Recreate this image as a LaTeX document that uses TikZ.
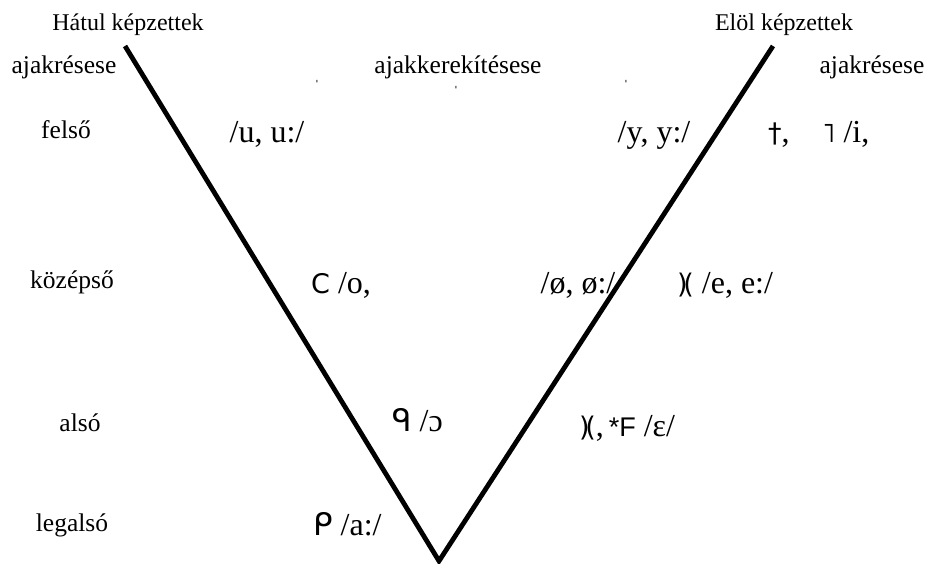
\documentclass[tikz,border=0pt]{standalone}
\usepackage{fontspec}
\setmainfont{Liberation Serif}
\newfontfamily\dv{DejaVu Sans}
\newfontfamily\ls{Liberation Sans}
\newcommand{\rg}[1]{{\dv\fontsize{27}{30}\selectfont #1}}
\newcommand{\rgu}[1]{{\dv\fontsize{31}{34}\selectfont #1}}
\begin{document}
\begin{tikzpicture}[x=1pt,y=-1pt,
  hdr/.style={inner sep=0pt,anchor=base,font=\fontsize{24}{28}\selectfont},
  lbl/.style={inner sep=0pt,anchor=base,font=\fontsize{25.5}{28}\selectfont},
  ipa/.style={inner sep=0pt,anchor=base,font=\fontsize{32}{36}\selectfont},
  ipaw/.style={ipa,anchor=base west},
  tick/.style={inner sep=0pt,font=\fontsize{16}{16}\selectfont},
  vline/.style={line width=4.8pt,line join=miter,black}]
\useasboundingbox (0,0) rectangle (927,563);
\begin{scope}
\clip (0,0) rectangle (927,563);
\coordinate (lt) at (125,46);
\coordinate (rt) at (773,46);
\coordinate (bot) at (439,561);
\draw[vline] (lt) -- (bot) -- (rt);
\end{scope}
\node[hdr] (hatul) at (128,30) {Hátul képzettek};
\node[hdr] (elol) at (784,30) {Elöl képzettek};
\node[lbl] (ajl) at (64,73) {ajakrésese};
\node[lbl] (ajm) at (458,73) {ajakkerekítésese};
\node[lbl] (ajr) at (872,73) {ajakrésese};
\node[tick] (t1) at (317,86) {ˈ};
\node[tick] (t2) at (456,92) {ˈ};
\node[tick] (t3) at (626,86) {ˈ};
\node[lbl] (felso) at (66,138) {felső};
\node[ipa] (u) at (267,142) {/u, u:/};
\node[ipa] (y) at (654,142) {/y, y:/};
\node[ipaw] (i1) at (768,142) {\rg{†},};
\node[ipaw] (i2) at (822,142) {\rg{˥} /i,};
\node[lbl] (kozep) at (72,288) {középső};
\node[ipaw] (o) at (311,293) {\rg{Ϲ} /o,};
\node[ipa] (oe) at (578,293) {/ø, ø:/};
\node[ipaw] (e) at (677,293) {\rg{)\kern-0.16em(} /e, e:/};
\node[lbl] (also) at (80,431) {alsó};
\node[ipaw] (oo) at (392,431) {\rgu{ᑫ} /ɔ};
\node[ipaw] (eps) at (579,436) {\rg{)\kern-0.16em(},\kern0.15em{\ls\fontsize{27}{30}\selectfont *F} /ɛ/};
\node[lbl] (legal) at (72,531) {legalsó};
\node[ipaw] (a) at (313,535) {\rgu{ᑭ} /a:/};
\end{tikzpicture}
\end{document}
